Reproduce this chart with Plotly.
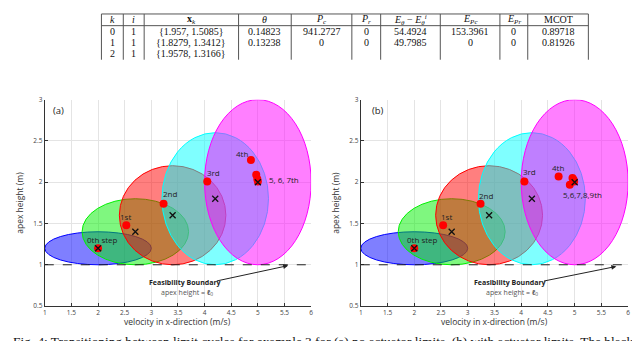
import plotly.graph_objects as go

W, H = 640, 341

# ellipse centres and semi-axes (same in both panels)
ell_cx = [2.0, 2.7, 3.4, 4.2, 5.0]
ell_cy = [1.2, 1.4, 1.6, 1.8, 2.0]
ell_a = [1.0, 1.0, 1.0, 1.0, 1.0]
ell_b = [0.2, 0.4, 0.6, 0.8, 1.0]
ell_colors = ["0,0,255", "0,240,0", "255,0,0", "0,255,255", "255,0,255"]

# trajectory points, panel (a)
a_x = [2.0, 2.53, 3.23, 4.05, 4.87, 4.97, 4.99, 5.0]
a_y = [1.2, 1.48, 1.74, 2.01, 2.27, 2.09, 2.04, 2.01]
a_lbl = ["0th step", "1st", "2nd", "3rd", "4th", "5, 6, 7th"]
a_lx = [2.08, 2.52, 3.36, 4.17, 4.70, 5.18]
a_ly = [1.31, 1.58, 1.86, 2.12, 2.35, 2.03]

# trajectory points, panel (b)
b_x = [2.0, 2.54, 3.24, 4.06, 4.70, 4.96, 4.99, 4.91, 4.98]
b_y = [1.2, 1.48, 1.74, 2.01, 2.07, 2.05, 2.01, 1.97, 2.03]
b_lbl = ["0th step", "1st", "2nd", "3rd", "4th", "5,6,7,8,9th"]
b_lx = [2.15, 2.61, 3.35, 4.15, 4.68, 5.14]
b_ly = [1.31, 1.58, 1.84, 2.13, 2.18, 1.85]

x_ticks = [1, 1.5, 2, 2.5, 3, 3.5, 4, 4.5, 5, 5.5, 6]
y_ticks = [0.5, 1, 1.5, 2, 2.5, 3]

# table
tbl_header = ["<i>k</i>", "<i>i</i>", "<b>x</b><sub><i>k</i></sub>", "<i>θ</i>",
              "<i>P</i><sub><i>c</i></sub>", "<i>P</i><sub><i>r</i></sub>",
              "<i>E</i><sub><i>θ</i></sub> − <i>E</i><sub><i>θ</i></sub><sup><i>i</i></sup>",
              "<i>E</i><sub><i>Pc</i></sub>", "<i>E</i><sub><i>Pr</i></sub>", "MCOT"]
tbl_rows = [
    ["0", "1", "{1.957, 1.5085}", "0.14823", "941.2727", "0", "54.4924", "153.3961", "0", "0.89718"],
    ["1", "1", "{1.8279, 1.3412}", "0.13238", "0", "0", "49.7985", "0", "0", "0.81926"],
    ["2", "1", "{1.9578, 1.3166}", "", "", "", "", "", "", ""],
]
col_edges = [92, 114, 135, 230, 283, 344, 373, 433, 493, 521, 582]

caption = ("Fig. 4: Transitioning between limit cycles for example 3 for (a) no actuator "
           "limits, (b) with actuator limits. The black")


def px(x):
    return x / W


def py(y):
    return 1 - y / H


fig = go.Figure()
shapes = []
annots = []

panels = [("x", "y", a_x, a_y, a_lbl, a_lx, a_ly, "(a)", 1.25, (3.64, 0.78), (4.2, 0.80), (5.57, 0.99), 35, 303),
          ("x2", "y2", b_x, b_y, b_lbl, b_lx, b_ly, "(b)", 1.32, (3.79, 0.78), (4.40, 0.80), (5.78, 0.98), 353, 622)]

for xr, yr, px_, py_, lbl, lx, ly, tag, tagx, ftxt, tail, head, xl, xrgt in panels:
    for cx, cy, a, b, c in zip(ell_cx, ell_cy, ell_a, ell_b, ell_colors):
        shapes.append(dict(type="circle", xref=xr, yref=yr, x0=cx - a, x1=cx + a,
                           y0=cy - b, y1=cy + b, layer="between",
                           fillcolor=f"rgba({c},0.5)", line=dict(color=f"rgb({c})", width=1)))
    shapes.append(dict(type="line", xref=xr, yref=yr, x0=1, x1=6, y0=1, y1=1, layer="above",
                       line=dict(color="#222", width=1, dash="dash")))
    fig.add_trace(go.Scatter(x=px_, y=py_, xaxis=xr, yaxis=yr, mode="markers",
                             marker=dict(color="#ff0000", size=8), showlegend=False))
    fig.add_trace(go.Scatter(x=ell_cx, y=ell_cy, xaxis=xr, yaxis=yr, mode="markers",
                             marker=dict(symbol="x-thin-open", color="#111", size=6,
                                         line=dict(width=1.3, color="#111")),
                             showlegend=False))
    for t, xx, yy in zip(lbl, lx, ly):
        xa = "left" if t.startswith("5") and xr == "x" else "center"
        annots.append(dict(text=t, x=xx, y=yy, xref=xr, yref=yr, showarrow=False, xanchor=xa,
                           font=dict(family="Open Sans", size=8, color="#222")))
    annots.append(dict(text=tag, x=tagx, y=2.87, xref=xr, yref=yr, showarrow=False,
                       font=dict(family="Open Sans", size=9.5, color="#222")))
    annots.append(dict(text="<b>Feasibility Boundary</b>", x=ftxt[0], y=ftxt[1], xref=xr, yref=yr,
                       showarrow=False, font=dict(family="Open Sans", size=7, color="#222")))
    annots.append(dict(text="apex height = <b><i>ℓ</i></b><sub>0</sub>", x=ftxt[0] + 0.03,
                       y=ftxt[1] - 0.11, xref=xr, yref=yr, showarrow=False,
                       font=dict(family="Open Sans", size=7, color="#555")))
    annots.append(dict(text="", x=head[0], y=head[1], ax=tail[0], ay=tail[1], xref=xr, yref=yr,
                       axref=xr, ayref=yr, showarrow=True, arrowhead=2, arrowsize=1,
                       arrowwidth=1, arrowcolor="#222"))
    # axis titles
    annots.append(dict(text="velocity in x-direction (m/s)", x=px((xl + xrgt) / 2), y=py(317),
                       xref="paper", yref="paper", xanchor="center", yanchor="middle",
                       showarrow=False, font=dict(family="Open Sans", size=8.5, color="#333")))
    annots.append(dict(text="apex height (m)", x=px(xl - 25), y=py(195), textangle=-90,
                       xref="paper", yref="paper", xanchor="center", yanchor="middle",
                       showarrow=False, font=dict(family="Open Sans", size=8.5, color="#333")))

# table lines
shapes.append(dict(type="line", xref="paper", yref="paper", x0=px(92), x1=px(582), y0=py(1), y1=py(1),
                   line=dict(color="#555", width=1)))
shapes.append(dict(type="line", xref="paper", yref="paper", x0=px(92), x1=px(582), y0=py(13), y1=py(13),
                   line=dict(color="#555", width=1)))
for e in col_edges:
    shapes.append(dict(type="line", xref="paper", yref="paper", x0=px(e), x1=px(e), y0=py(1), y1=py(48),
                       line=dict(color="#555", width=1)))

row_y = [7, 19, 30.5, 42]
for j in range(len(tbl_header)):
    cxp = (col_edges[j] + col_edges[j + 1]) / 2
    annots.append(dict(text=tbl_header[j], x=px(cxp), y=py(row_y[0]), xref="paper", yref="paper",
                       xanchor="center", yanchor="middle", showarrow=False,
                       font=dict(family="Liberation Serif", size=10, color="#111")))
    for r, row in enumerate(tbl_rows):
        if row[j]:
            annots.append(dict(text=row[j], x=px(cxp), y=py(row_y[r + 1]), xref="paper", yref="paper",
                               xanchor="center", yanchor="middle", showarrow=False,
                               font=dict(family="Liberation Serif", size=10, color="#111")))

annots.append(dict(text=caption, x=px(1), y=py(337), xref="paper", yref="paper", xanchor="left",
                   yanchor="middle", showarrow=False,
                   font=dict(family="Liberation Serif", size=13.3, color="#111")))

ax_common = dict(showgrid=True, gridcolor="#e4e4e4", gridwidth=1, zeroline=False, showline=True,
                 linecolor="#333", linewidth=1, ticks="inside", ticklen=3, tickcolor="#333",
                 tickfont=dict(family="Open Sans", size=6.5, color="#444"), mirror=False)
xa = dict(ax_common, range=[1, 6], tickvals=x_ticks, ticktext=[f"{v:g}" for v in x_ticks])
ya = dict(ax_common, range=[0.5, 3], tickvals=y_ticks, ticktext=[f"{v:g}" for v in y_ticks])

fig.update_layout(
    width=W, height=H, margin=dict(l=0, r=0, t=0, b=0),
    paper_bgcolor="white", plot_bgcolor="white",
    xaxis=dict(xa, domain=[px(35), px(303)], anchor="y"),
    yaxis=dict(ya, domain=[py(301), py(89)], anchor="x"),
    xaxis2=dict(xa, domain=[px(353), px(622)], anchor="y2"),
    yaxis2=dict(ya, domain=[py(301), py(89)], anchor="x2"),
    shapes=shapes, annotations=annots,
)

fig.write_html("out.html")
